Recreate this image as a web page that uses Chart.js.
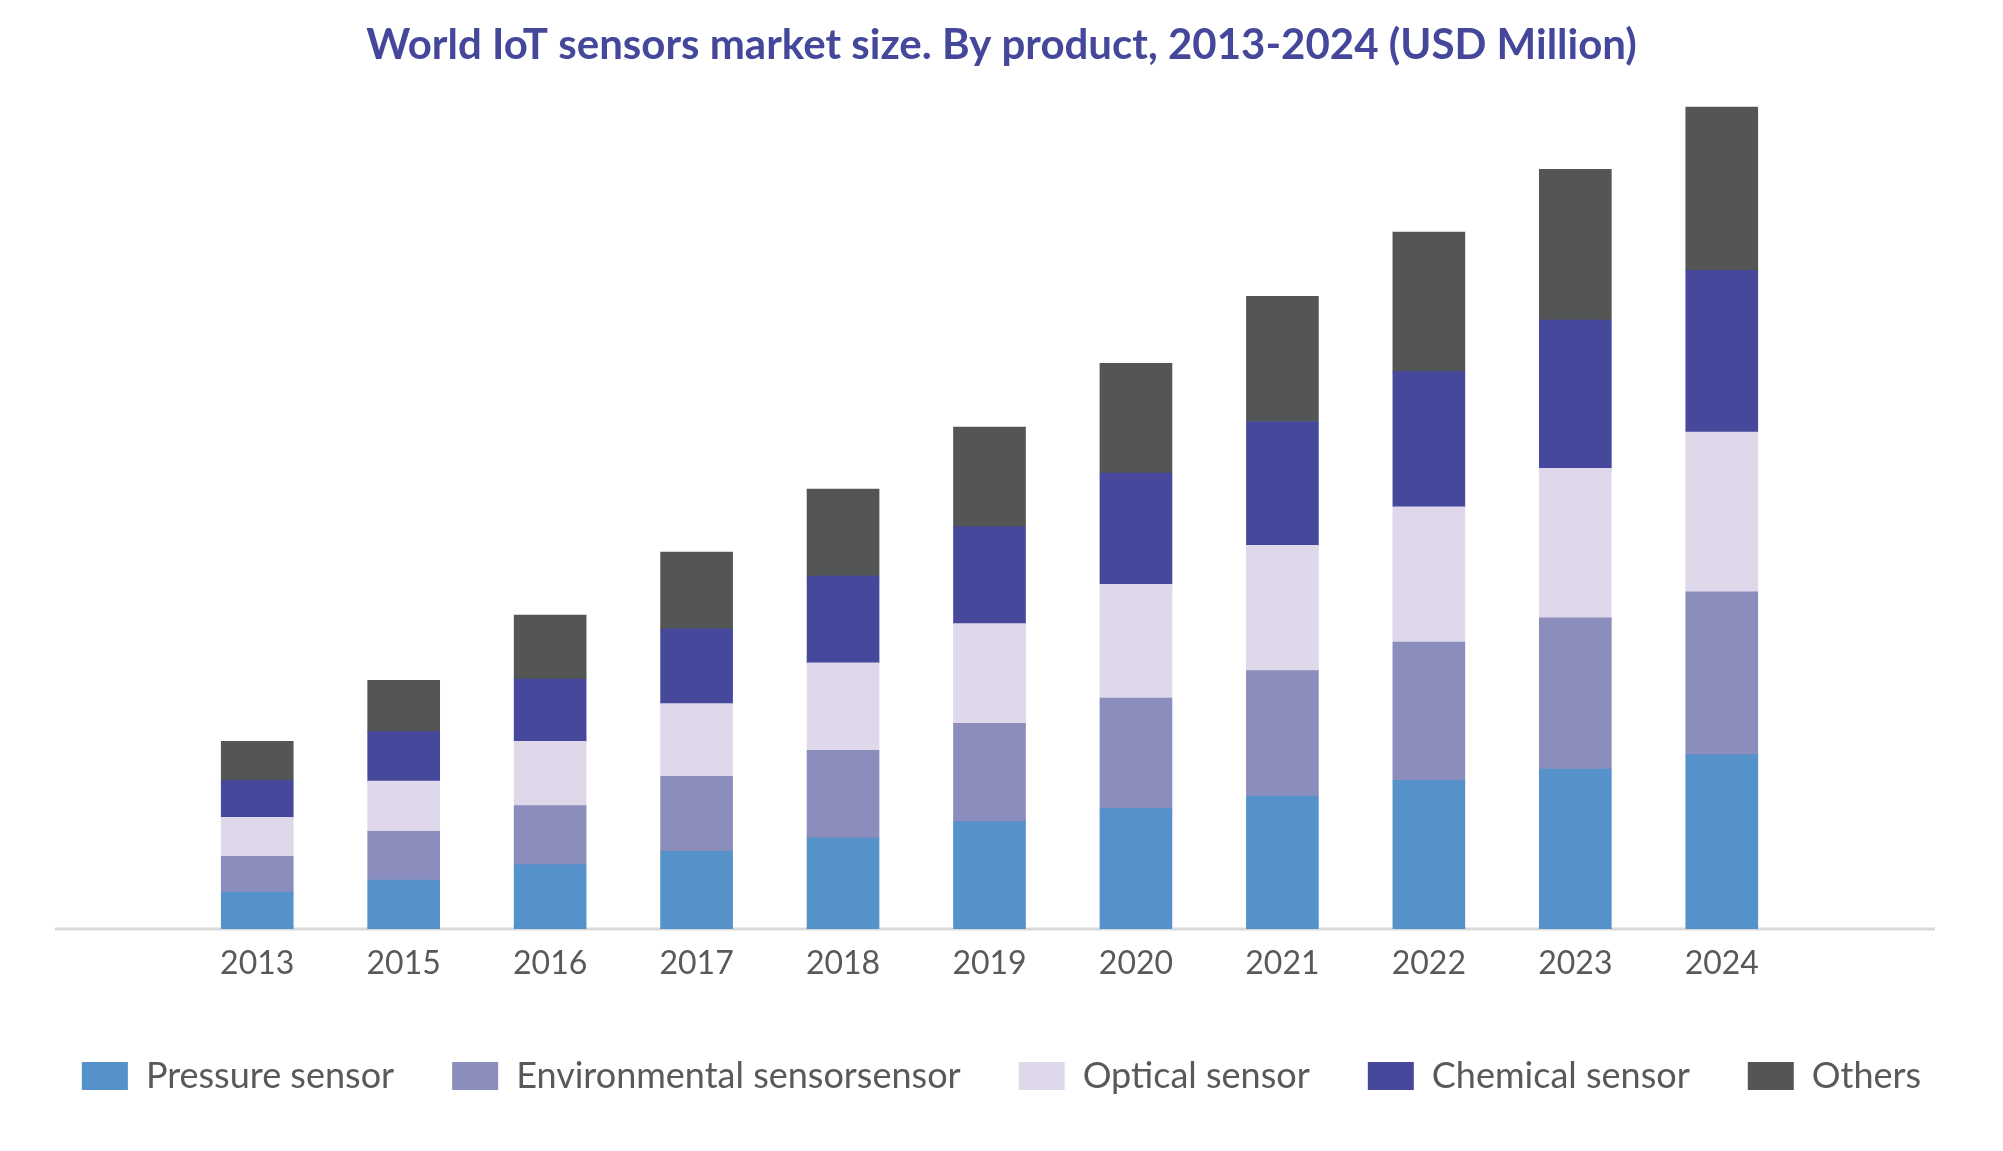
<!DOCTYPE html>
<html>
<head>
<meta charset="utf-8">
<script src="https://cdn.jsdelivr.net/npm/chart.js@4.4.1/dist/chart.umd.min.js"></script>
<style>
    html, body { margin: 0; padding: 0; background: #ffffff; }
    #wrap { width: 2003px; height: 1151px; }
</style>
</head>
<body>
<div id="wrap"><canvas id="sensorChart" width="2003" height="1151"></canvas></div>
<script>
const years = ['2013', '2015', '2016', '2017', '2018', '2019', '2020', '2021', '2022', '2023', '2024'];

const pressure = [370, 490, 643, 777, 910, 1073, 1207, 1330, 1486, 1600, 1743];
const environmental = [357, 487, 590, 750, 877, 984, 1103, 1254, 1382, 1512, 1628];
const optical = [390, 503, 643, 726, 875, 996, 1137, 1252, 1354, 1495, 1599];
const chemical = [370, 494, 624, 749, 868, 971, 1111, 1239, 1354, 1482, 1616];
const others = [390, 513, 639, 767, 869, 996, 1099, 1252, 1392, 1507, 1634];

const seriesNames = ['Pressure sensor', 'Environmental sensorsensor', 'Optical sensor', 'Chemical sensor', 'Others'];
const seriesColors = ['#5592c9', '#8b8dbd', '#ded8ea', '#46499b', '#545656'];

// grey baseline runs wider than the bar area
const baseLine = {
    id: 'baseLine',
    beforeDatasetsDraw(chart) {
        const y = chart.scales.y.getPixelForValue(0);
        const ctx = chart.ctx;
        ctx.save();
        ctx.strokeStyle = '#d9d9d9';
        ctx.lineWidth = 3;
        ctx.beginPath();
        ctx.moveTo(55, y);
        ctx.lineTo(1935, y);
        ctx.stroke();
        ctx.restore();
    }
};

function loadChart() {
    const ctx = document.getElementById('sensorChart');
    const allSeries = [pressure, environmental, optical, chemical, others];

    new Chart(ctx, {
        type: 'bar',
        data: {
            labels: years,
            datasets: allSeries.map((values, i) => ({
                label: seriesNames[i],
                data: values,
                backgroundColor: seriesColors[i],
                borderWidth: 0,
                barThickness: 72
            }))
        },
        options: {
            responsive: false,
            animation: false,
            layout: { padding: { top: 0, bottom: 47, left: 0, right: 0 } },
            plugins: {
                title: {
                    display: true,
                    text: 'World IoT sensors market size. By product, 2013-2024 (USD Million)',
                    color: '#45489a',
                    font: { family: 'Lato', size: 42, weight: 'bold' },
                    padding: { top: 20, bottom: 27.6 }
                },
                legend: {
                    position: 'bottom',
                    labels: {
                        color: '#595959',
                        font: { family: 'Lato', size: 36 },
                        boxWidth: 46,
                        boxHeight: 28,
                        padding: 58
                    }
                },
                tooltip: { enabled: false }
            },
            scales: {
                x: {
                    stacked: true,
                    grid: { display: false, drawTicks: false },
                    border: { display: false },
                    ticks: {
                        color: '#595959',
                        font: { family: 'Lato', size: 32 },
                        padding: 15
                    },
                    afterFit(scale) { scale.height = 71; }
                },
                y: {
                    stacked: true,
                    min: 0,
                    max: 8310,
                    grid: { display: false },
                    border: { display: false },
                    ticks: { display: false },
                    afterFit(scale) { scale.width = 184; }
                },
                yRight: {
                    position: 'right',
                    grid: { display: false },
                    border: { display: false },
                    ticks: { display: false },
                    afterFit(scale) { scale.width = 208; }
                }
            }
        },
        plugins: [baseLine]
    });
}

loadChart();
</script>
</body>
</html>
